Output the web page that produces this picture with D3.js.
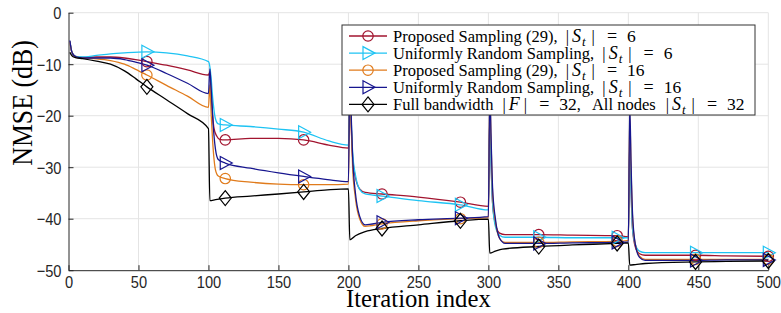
<!DOCTYPE html>
<html>
<head>
<meta charset="utf-8">
<script src="https://cdn.jsdelivr.net/npm/d3@7"></script>
<style>
  body { margin: 0; background: #fff; }
  svg { display: block; }
</style>
</head>
<body>
<svg id="chart" width="781" height="313"></svg>
<script>
    // tick labels
    var xTicks = [0, 50, 100, 150, 200, 250, 300, 350, 400, 450, 500];
    var yTicks = [0, -10, -20, -30, -40, -50];
    var markerIters = [56, 112, 168, 224, 280, 336, 392, 448, 500];

    // NMSE (dB) vs iteration
    var proposed6 = [
      [1,-5.6],[2,-7.2],[3,-8.0],[5,-8.5],[10,-8.7],[20,-8.6],[30,-8.6],[40,-8.8],[48,-9.1],[56,-9.5],[70,-10.2],[85,-11.1],[100,-12.1],
      [101,-11.5],[102,-16],[103,-20],[104,-22.5],[106,-24],[108,-24.6],[112,-24.7],[130,-24.4],[150,-24.4],[168,-24.7],[186,-25.7],[200,-26.3],
      [201,-16],[202,-22],[203,-28],[205,-32],[208,-34.2],[212,-34.9],[224,-35.2],[250,-35.8],[280,-36.8],[300,-37.6],
      [301,-20],[302,-30],[303,-37],[305,-41],[308,-42.8],[312,-43.1],[336,-43.1],[360,-43.2],[392,-43.3],[400,-43.5],
      [401,-25],[402,-35],[403,-42],[405,-45.5],[408,-46.8],[412,-47.1],[448,-47.1],[470,-47.2],[500,-47.3]
    ];
    var uniform6 = [
      [1,-5.6],[2,-7.2],[3,-8.0],[5,-8.5],[10,-8.6],[20,-8.3],[30,-8.0],[40,-7.8],[56,-7.6],[70,-7.8],[85,-8.4],[100,-9.5],
      [101,-10.5],[102,-13],[103,-16.5],[104,-19],[105,-20.6],[107,-21.6],[112,-21.8],[130,-22.1],[150,-22.6],[168,-23.2],[186,-24.9],[200,-25.7],
      [201,-15],[202,-21],[203,-27],[205,-31.5],[208,-34.3],[212,-35.2],[224,-35.6],[250,-36.5],[280,-37.3],[300,-38.3],
      [301,-20],[302,-30],[303,-37],[305,-41.5],[308,-43.2],[312,-43.6],[336,-43.6],[360,-43.7],[392,-43.7],[400,-43.7],
      [401,-25],[402,-35],[403,-42],[405,-45],[408,-46.3],[412,-46.6],[448,-46.6],[470,-46.6],[500,-46.6]
    ];
    var proposed16 = [
      [1,-5.6],[2,-7.3],[3,-8.0],[5,-8.6],[10,-8.8],[20,-8.95],[30,-9.3],[40,-10.0],[48,-11.0],[56,-12.1],[70,-14.1],[85,-16.2],[100,-18.4],
      [101,-14],[102,-20],[103,-25],[104,-28.5],[105,-30.5],[107,-31.7],[112,-32.2],[130,-32.9],[150,-33.3],[168,-33.4],[185,-33.4],[200,-33.3],
      [201,-14],[202,-22],[203,-30],[205,-36],[208,-40],[212,-41.5],[224,-41.0],[250,-40.4],[280,-40.0],[300,-39.8],
      [301,-16],[302,-26],[303,-35],[305,-40.5],[308,-43.8],[312,-44.6],[336,-44.6],[360,-44.5],[392,-44.4],[400,-44.2],
      [401,-20],[402,-31],[403,-40],[405,-45],[408,-47.3],[412,-47.9],[448,-47.9],[470,-47.9],[500,-47.9]
    ];
    var uniform16 = [
      [1,-5.4],[2,-7.2],[3,-8.0],[5,-8.5],[10,-8.8],[20,-8.8],[30,-8.8],[40,-9.1],[48,-9.6],[56,-10.2],[70,-11.8],[85,-13.7],[100,-15.7],
      [101,-10.9],[102,-15],[103,-20],[104,-24],[105,-26.5],[107,-28.5],[112,-29.2],[130,-30.2],[150,-31.1],[168,-31.8],[185,-32.4],[200,-32.8],
      [201,-12],[202,-20],[203,-28],[205,-35],[208,-39.5],[212,-41.2],[224,-40.7],[250,-40.2],[280,-39.9],[300,-39.6],
      [301,-15],[302,-25],[303,-34],[305,-40],[308,-43.8],[312,-44.8],[336,-44.8],[360,-44.7],[392,-44.6],[400,-44.5],
      [401,-18],[402,-30],[403,-39],[405,-45],[408,-47.5],[412,-48.1],[448,-48.1],[470,-48.0],[500,-48.0]
    ];
    var fullBand = [
      [1,-7.7],[2,-8.2],[3,-8.5],[5,-8.7],[10,-8.9],[20,-9.4],[30,-10.0],[40,-11.3],[48,-12.8],[56,-14.4],[70,-16.9],[85,-19.6],[100,-22.5],
      [101,-36.5],[105,-36.3],[112,-36.0],[130,-35.6],[150,-35.2],[168,-34.8],[185,-34.4],[200,-34.2],
      [201,-44.1],[205,-43.3],[212,-42.5],[224,-41.9],[250,-41.2],[280,-40.4],[300,-40.1],
      [301,-46.7],[305,-46.3],[310,-45.9],[336,-45.4],[360,-45.1],[392,-44.8],[400,-44.7],
      [401,-49.0],[405,-48.9],[412,-48.7],[448,-48.4],[470,-48.3],[500,-48.2]
    ];

    var series = [
      { data: proposed6,  color: '#a2142f', marker: 'circle',   pre: 'Proposed Sampling (29), ',    n: '6' },
      { data: uniform6,   color: '#1ec3f3', marker: 'triangle', pre: 'Uniformly Random Sampling, ', n: '6' },
      { data: proposed16, color: '#e07b1c', marker: 'circle',   pre: 'Proposed Sampling (29), ',    n: '16' },
      { data: uniform16,  color: '#17168f', marker: 'triangle', pre: 'Uniformly Random Sampling, ', n: '16' },
      { data: fullBand,   color: '#000000', marker: 'diamond',  pre: 'Full bandwidth ',             n: '32' }
    ];

    var serif = '"Liberation Serif", "Times New Roman", serif';
    var svg = d3.select('#chart');
    var x = d3.scaleLinear().domain([0, 500]).range([68.5, 768.3]);
    var y = d3.scaleLinear().domain([-50, 0]).range([270.2, 12.7]);

    // squeeze text a bit, the fonts in the figure are narrow
    function squeeze(sel, f) {
      sel.each(function() {
        var w = this.getComputedTextLength();
        d3.select(this).attr('textLength', w * f).attr('lengthAdjust', 'spacingAndGlyphs');
      });
    }

    // grid
    svg.append('g').selectAll('line').data(xTicks.slice(1)).enter().append('line')
      .attr('x1', d => x(d)).attr('x2', d => x(d)).attr('y1', y(0)).attr('y2', y(-50))
      .attr('stroke', '#e4e4e4').attr('stroke-width', 1);
    svg.append('g').selectAll('line').data(yTicks.slice(0, -1)).enter().append('line')
      .attr('x1', x(0)).attr('x2', x(500)).attr('y1', d => y(d)).attr('y2', d => y(d))
      .attr('stroke', '#e4e4e4').attr('stroke-width', 1);

    // axes, ticks inside
    var xAxis = svg.append('g').attr('transform', 'translate(0,' + y(-50) + ')')
      .call(d3.axisBottom(x).tickValues(xTicks).tickSizeInner(-5).tickSizeOuter(0).tickPadding(8));
    var yAxis = svg.append('g').attr('transform', 'translate(' + x(0) + ',0)')
      .call(d3.axisLeft(y).tickValues(yTicks).tickSizeInner(-5).tickSizeOuter(0).tickPadding(7));
    [xAxis, yAxis].forEach(function(a) {
      a.select('.domain').attr('stroke', '#262626');
      a.selectAll('.tick line').attr('stroke', '#262626');
      a.selectAll('.tick text').attr('fill', '#262626')
        .style('font-family', '"Liberation Sans", Arial, sans-serif').style('font-size', '17px');
      squeeze(a.selectAll('.tick text'), 0.86);
    });
    xAxis.selectAll('.tick text').attr('dy', '0.6em');
    yAxis.selectAll('.tick text').attr('dy', '0.36em');

    // curves
    var line = d3.line().x(d => x(d[0])).y(d => y(d[1])).curve(d3.curveMonotoneX);

    function drawMarker(g, type, color) {
      if (type === 'circle') {
        return g.append('circle').attr('r', 5.2).attr('fill', 'none')
          .attr('stroke', color).attr('stroke-width', 1.2);
      }
      var d = type === 'triangle' ? 'M-5,-6.5L7,0L-5,6.5Z' : 'M0,-7.5L6,0L0,7.5L-6,0Z';
      return g.append('path').attr('d', d).attr('fill', 'none')
        .attr('stroke', color).attr('stroke-width', 1.2);
    }

    series.forEach(function(s) {
      svg.append('path').datum(s.data).attr('d', line)
        .attr('fill', 'none').attr('stroke', s.color).attr('stroke-width', 1.3);
    });
    series.forEach(function(s) {
      s.data.filter(d => markerIters.indexOf(d[0]) >= 0).forEach(function(p) {
        var g = svg.append('g').attr('transform', 'translate(' + x(p[0]) + ',' + y(p[1]) + ')');
        drawMarker(g, s.marker, s.color);
      });
    });

    // axis labels
    var xl = svg.append('text').attr('x', x(250)).attr('y', 306.5).attr('text-anchor', 'middle')
      .style('font-family', serif).style('font-size', '26px')
      .text('Iteration index');
    squeeze(xl, 0.95);
    var yl = svg.append('text').attr('transform', 'translate(32,103) rotate(-90)').attr('text-anchor', 'middle')
      .style('font-family', serif).style('font-size', '30px')
      .text('NMSE (dB)');
    squeeze(yl, 0.86);

    // legend
    var leg = svg.append('g');
    leg.append('rect').attr('x', 342).attr('y', 25).attr('width', 413).attr('height', 90)
      .attr('fill', '#fff').attr('stroke', '#333').attr('stroke-width', 1);

    // |S_t| = n written with math-like spacing
    function setNorm(t, letter, sub, n, lead) {
      t.append('tspan').text('|').attr('dx', lead);
      t.append('tspan').text(letter).attr('dx', 3).style('font-style', 'italic').style('font-size', '18px');
      if (sub) {
        t.append('tspan').text(sub).attr('dx', 1).attr('dy', 4.5).style('font-style', 'italic').style('font-size', '13px');
        t.append('tspan').text('|').attr('dx', 6).attr('dy', -4.5);
      } else {
        t.append('tspan').text('|').attr('dx', 4);
      }
      t.append('tspan').text('=').attr('dx', 12).style('font-size', '18px');
      t.append('tspan').text(n).attr('dx', 10).style('font-size', '17.5px');
    }

    series.forEach(function(s, i) {
      var cy = 36 + i * 17.1;
      leg.append('line').attr('x1', 349).attr('x2', 387).attr('y1', cy).attr('y2', cy)
        .attr('stroke', s.color).attr('stroke-width', 1.3);
      var g = leg.append('g').attr('transform', 'translate(368,' + cy + ')');
      drawMarker(g, s.marker, s.color);
      var t = leg.append('text').attr('x', 393).attr('y', cy + 5.5)
        .style('font-family', serif).style('font-size', '16.5px');
      t.append('tspan').text(s.pre);
      if (i < 4) {
        setNorm(t, 'S', 't', s.n, 4);
      } else {
        setNorm(t, 'F', '', '32', 5);
        t.append('tspan').text(',');
        t.append('tspan').text('All nodes').attr('dx', 11);
        setNorm(t, 'S', 't', s.n, 10);
      }
    });
</script>
</body>
</html>
